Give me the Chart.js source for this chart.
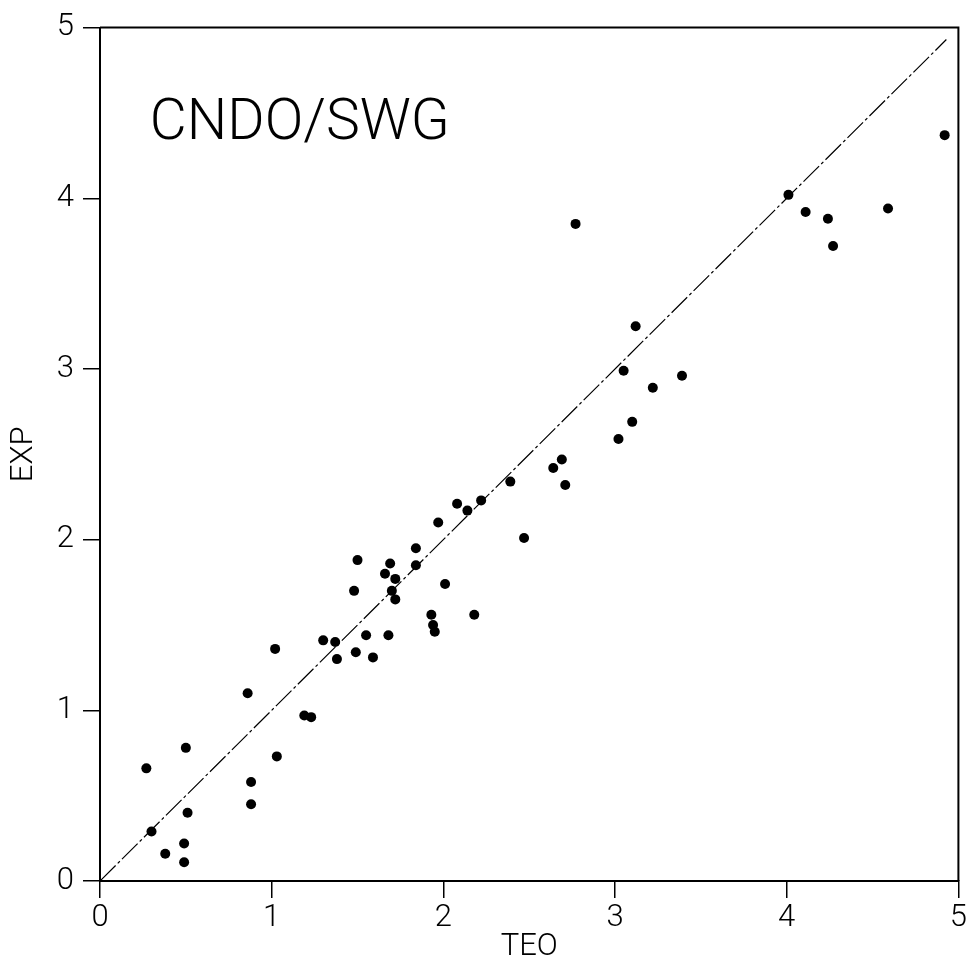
<!DOCTYPE html>
<html>
<head>
<meta charset="utf-8">
<script src="https://cdn.jsdelivr.net/npm/chart.js@4"></script>
<style>
  body { margin: 0; background: #fff; }
</style>
</head>
<body>
<canvas id="scatterChart" width="969" height="971"></canvas>
<script>
// values
var teo = [0.27, 0.30, 0.38, 0.49, 0.49, 0.50, 0.51, 0.86, 0.88, 0.88,
           1.02, 1.03, 1.19, 1.23, 1.30, 1.37, 1.38, 1.48, 1.49, 1.50,
           1.55, 1.59, 1.66, 1.68, 1.69, 1.70, 1.72, 1.72, 1.84, 1.84,
           1.93, 1.94, 1.95, 1.97, 2.01, 2.08, 2.14, 2.18, 2.22, 2.39,
           2.47, 2.64, 2.69, 2.71, 2.77, 3.02, 3.05, 3.10, 3.12, 3.22,
           3.39, 4.01, 4.11, 4.24, 4.27, 4.59, 4.92];
var exp = [0.66, 0.29, 0.16, 0.22, 0.11, 0.78, 0.40, 1.10, 0.58, 0.45,
           1.36, 0.73, 0.97, 0.96, 1.41, 1.40, 1.30, 1.70, 1.34, 1.88,
           1.44, 1.31, 1.80, 1.44, 1.86, 1.70, 1.77, 1.65, 1.85, 1.95,
           1.56, 1.50, 1.46, 2.10, 1.74, 2.21, 2.17, 1.56, 2.23, 2.34,
           2.01, 2.42, 2.47, 2.32, 3.85, 2.59, 2.99, 2.69, 3.25, 2.89,
           2.96, 4.02, 3.92, 3.88, 3.72, 3.94, 4.37];
var diagonal = [0, 4.93];        // y = x reference line
var axisTicks = [0, 1, 2, 3, 4, 5];
var label = "CNDO/SWG";

var points = teo.map(function (t, i) { return {x: t, y: exp[i]}; });
var diagLine = diagonal.map(function (v) { return {x: v, y: v}; });

var fontFam = "Roboto, 'Liberation Sans', sans-serif";

// box around plot + the method label
var framePlugin = {
    id: 'frame',
    afterDraw: function (chart) {
        var ctx = chart.ctx;
        var a = chart.chartArea;
        ctx.save();
        ctx.strokeStyle = '#000';
        ctx.lineWidth = 2;
        ctx.beginPath();
        ctx.moveTo(a.left, a.top);
        ctx.lineTo(a.right, a.top);
        ctx.lineTo(a.right, a.bottom);
        ctx.stroke();
        ctx.fillStyle = '#000';
        ctx.font = "300 57px " + fontFam;
        ctx.textBaseline = 'alphabetic';
        ctx.fillText(label, chart.scales.x.getPixelForValue(0.29), chart.scales.y.getPixelForValue(4.35));
        ctx.restore();
    }
};

var axisOpts = function (title, isX) {
    return {
        type: 'linear',
        min: 0,
        max: 5,
        afterBuildTicks: function (scale) {
            scale.ticks = axisTicks.map(function (v) { return {value: v}; });
        },
        afterFit: function (scale) {
            if (isX) scale.height = 90; else scale.width = 100;
        },
        ticks: {
            color: '#000',
            padding: isX ? 2 : 9,
            font: {family: fontFam, size: 31, weight: 300}
        },
        grid: {
            drawOnChartArea: false,
            tickLength: 17,
            color: '#000',
            lineWidth: 1.5
        },
        border: {color: '#000', width: 2},
        title: {
            display: true,
            text: title,
            color: '#000',
            padding: {top: 6, bottom: 5},
            font: {family: fontFam, size: 31, weight: 300}
        }
    };
};

var ctxS = document.getElementById("scatterChart").getContext('2d');
var myScatter = new Chart(ctxS, {
    type: 'scatter',
    data: {
        datasets: [{
            type: 'line',
            data: diagLine,
            borderColor: '#000',
            borderWidth: 1.2,
            borderDash: [22, 3, 3, 3],
            pointRadius: 0,
            fill: false
        }, {
            data: points,
            backgroundColor: '#000',
            borderWidth: 0,
            pointRadius: 5
        }]
    },
    plugins: [framePlugin],
    options: {
        responsive: false,
        animation: false,
        layout: {
            autoPadding: false,
            padding: {top: 27, right: 9, left: 0, bottom: 0}
        },
        plugins: {
            legend: {display: false},
            tooltip: {enabled: false}
        },
        scales: {
            x: axisOpts('TEO', true),
            y: axisOpts('EXP', false)
        }
    }
});
</script>
</body>
</html>
